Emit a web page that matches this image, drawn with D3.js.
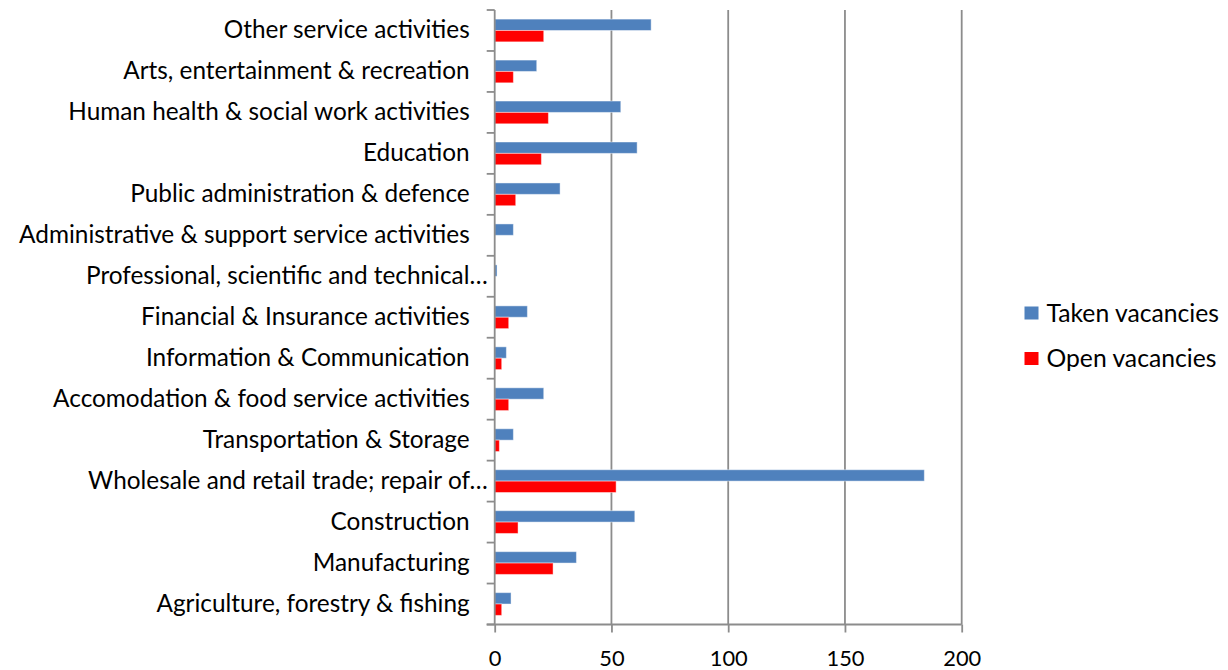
<!DOCTYPE html>
<html>
<head>
<meta charset="utf-8">
<script src="https://cdn.jsdelivr.net/npm/d3@7"></script>
<style>
  html, body { margin: 0; padding: 0; background: #ffffff; }
  svg { display: block; }
  text { font-family: Lato, "Open Sans", "Liberation Sans", sans-serif; fill: #000; }
</style>
</head>
<body>
<svg id="chart" width="1228" height="670"></svg>
<script>
// Categories listed top to bottom, as in the chart
const categories = [
  "Other service activities",
  "Arts, entertainment & recreation",
  "Human health & social work activities",
  "Education",
  "Public administration & defence",
  "Administrative & support service activities",
  "Professional, scientific and technical…",
  "Financial & Insurance activities",
  "Information & Communication",
  "Accomodation & food service activities",
  "Transportation & Storage",
  "Wholesale and retail trade; repair of…",
  "Construction",
  "Manufacturing",
  "Agriculture, forestry & fishing"
];
const takenVacancies = [67, 18, 54, 61, 28, 8, 1, 14, 5, 21, 8, 184, 60, 35, 7];
const openVacancies  = [21, 8, 23, 20, 9, 0, 0, 6, 3, 6, 2, 52, 10, 25, 3];
const seriesNames = ["Taken vacancies", "Open vacancies"];
const seriesColors = ["#4F81BD", "#FF0000"];
const xTicks = [0, 50, 100, 150, 200];

(function () {
const rows = categories.map((c, i) => ({ cat: c, values: [takenVacancies[i], openVacancies[i]] }));

const svg = d3.select("#chart");
const pLeft = 494.7, pRight = 961.7, pTop = 10, pBottom = 624.5;
const gridColor = "#8c8c8c";

const x = d3.scaleLinear().domain([0, 200]).range([pLeft, pRight]);
const y = d3.scaleBand().domain(categories).range([pTop, pBottom]).paddingInner(0).paddingOuter(0);
const y1 = d3.scaleBand().domain(seriesNames).range([0, y.bandwidth()]).paddingInner(0).paddingOuter(0.8);
const color = d3.scaleOrdinal().domain(seriesNames).range(seriesColors);

function fitFont(sel, target, base) {
  const node = sel.node();
  if (!node) return base;
  const w = node.getComputedTextLength();
  return w > 0 ? base * target / w : base;
}

// Gridlines
svg.append("g").selectAll("line").data(xTicks.filter(d => d > 0)).join("line")
  .attr("x1", d => x(d)).attr("x2", d => x(d))
  .attr("y1", pTop).attr("y2", pBottom)
  .attr("stroke", gridColor).attr("stroke-width", 1.8);

// Bars
const groups = svg.append("g").selectAll("g").data(rows).join("g")
  .attr("transform", d => `translate(0,${y(d.cat)})`);
groups.selectAll("rect").data(d => seriesNames.map((s, i) => ({ s, v: d.values[i] })).filter(e => e.v > 0)).join("rect")
  .attr("x", x(0))
  .attr("y", d => y1(d.s))
  .attr("width", d => x(d.v) - x(0))
  .attr("height", y1.bandwidth())
  .attr("fill", d => color(d.s))
  .attr("stroke", "rgba(255,255,255,0.45)")
  .attr("stroke-width", 1);

// X axis
const xAxis = d3.axisBottom(x).tickValues(xTicks).tickSize(8).tickPadding(17.5);
const gx = svg.append("g").attr("transform", `translate(0,${pBottom})`).call(xAxis);
gx.select(".domain").remove();
gx.selectAll(".tick line").attr("stroke", gridColor).attr("stroke-width", 1.8);
gx.selectAll(".tick text").style("font-size", "20px").attr("dy", "0.71em");
const xfs = fitFont(gx.selectAll(".tick text").filter(d => d === 100), 38, 20);
gx.selectAll(".tick text").style("font-size", xfs + "px");
svg.append("line").attr("x1", pLeft - 8).attr("x2", pRight).attr("y1", pBottom).attr("y2", pBottom)
  .attr("stroke", gridColor).attr("stroke-width", 1.8);

// Y axis line and boundary ticks
svg.append("line").attr("x1", pLeft).attr("x2", pLeft).attr("y1", pTop).attr("y2", pBottom)
  .attr("stroke", gridColor).attr("stroke-width", 1.8);
const boundaries = categories.map(c => y(c)).concat([y(categories[categories.length - 1]) + y.bandwidth()]);
svg.append("g").selectAll("line").data(boundaries).join("line")
  .attr("x1", pLeft - 8).attr("x2", pLeft).attr("y1", d => d).attr("y2", d => d)
  .attr("stroke", gridColor).attr("stroke-width", 1.8);

// Y labels
const yAxis = d3.axisLeft(y).tickSize(0).tickPadding(25);
const gy = svg.append("g").attr("transform", `translate(${pLeft},0)`).call(yAxis);
gy.select(".domain").remove();
gy.selectAll(".tick text").style("font-size", "20px")
  .attr("x", d => d.endsWith("…") ? -7 : -25);
const yfs = fitFont(gy.selectAll(".tick text").filter(d => d === categories[0]), 246, 20);
gy.selectAll(".tick text").style("font-size", yfs + "px");

// Legend
const legend = svg.append("g").selectAll("g").data(seriesNames).join("g")
  .attr("transform", (d, i) => `translate(1024.5,${306.5 + i * 45.5})`);
legend.append("rect").attr("width", 14).attr("height", 13).attr("fill", d => color(d));
const lt = legend.append("text").attr("x", 22).attr("y", 6.5).attr("dy", "0.36em")
  .style("font-size", "20px").text(d => d);
const lfs = fitFont(lt.filter(d => d === seriesNames[0]), 172.5, 20);
lt.style("font-size", lfs + "px");
})();
</script>
</body>
</html>
